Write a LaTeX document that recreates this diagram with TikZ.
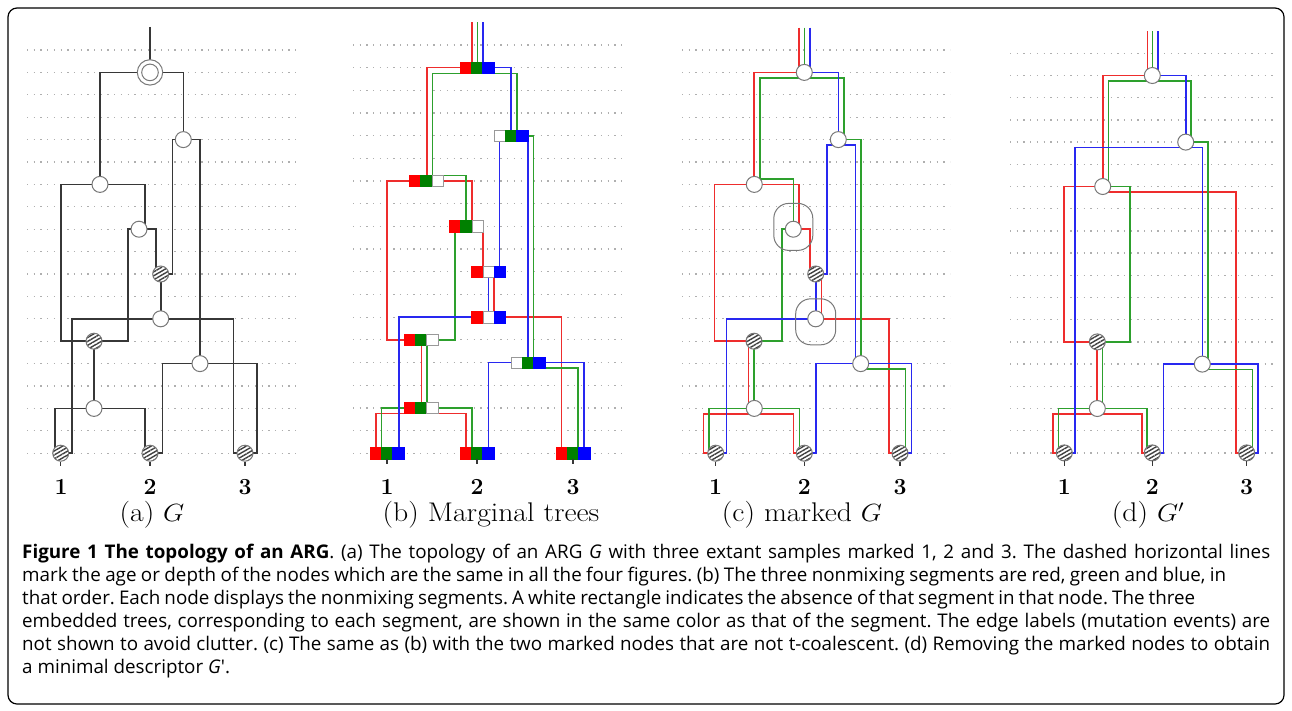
\documentclass[tikz,border=0pt]{standalone}
\usepackage{fontspec}
\newfontfamily\capfont{Open Sans}
\usetikzlibrary{patterns.meta,backgrounds}
\frenchspacing
\definecolor{lr}{RGB}{238,45,45}
\definecolor{lg}{RGB}{45,160,45}
\definecolor{lb}{RGB}{40,40,240}
\definecolor{fr}{RGB}{255,0,0}
\definecolor{fg}{RGB}{0,128,0}
\definecolor{fb}{RGB}{0,0,255}
\definecolor{edgec}{RGB}{55,55,55}
\definecolor{ringc}{RGB}{120,120,120}
\definecolor{dotc}{RGB}{175,175,175}
\tikzset{
  dotrow/.style={draw=dotc, line width=1.3pt, dash pattern=on 1.3pt off 5.4pt},
  glin/.style={draw=edgec, line width=1.6pt},
  rl/.style={draw=lr, line width=1.6pt},
  gl/.style={draw=lg, line width=1.6pt},
  bl/.style={draw=lb, line width=1.6pt},
  circ/.style={circle, draw=ringc, fill=white, line width=1pt, minimum size=16pt, inner sep=0pt},
  hcirc/.style={circle, draw=ringc, line width=1pt, minimum size=16pt, inner sep=0pt,
    preaction={fill=white}, pattern={Lines[angle=30,distance=3.4pt,line width=1.4pt]}, pattern color=black!75},
  sq/.style={rectangle, minimum size=11.3pt, inner sep=0pt, line width=0.6pt},
  sqR/.style={sq, fill=fr, draw=fr},
  sqG/.style={sq, fill=fg, draw=fg},
  sqB/.style={sq, fill=fb, draw=fb},
  sqW/.style={sq, fill=white, draw=gray!80},
  markloop/.style={draw=ringc, line width=1pt, rounded corners=15pt, inner sep=0pt},
  leaftick/.style={draw=edgec, line width=1.2pt},
  digit/.style={font=\fontsize{23}{25}\selectfont\bfseries, inner sep=0pt},
  subcap/.style={font=\fontsize{27}{30}\selectfont, inner sep=0pt},
  capline/.style={font=\capfont\fontsize{18.8}{23}\selectfont, anchor=base west, inner sep=0pt},
}
\newcommand\segbox[6]{%
  \node[#4] (#1L) at ({#2-11.3},#3) {};
  \node[#5] (#1) at (#2,#3) {};
  \node[#6] (#1R) at ({#2+11.3},#3) {};}
\newcommand\bclines{%
  \draw[rl] (144.8,-1) -- (144.8,1) -- (99.7,1) -- (99.7,6);
  \draw[rl] (94,13) -- (60,13) -- (60,6) -- (144.9,6) -- (144.9,8);
  \draw[rl] (139,8) -- (155.7,8) -- (155.7,10);
  \draw[rl] (167,10) -- (167,12);
  \draw[rl] (161.5,12) -- (234.5,12) -- (234.5,18) -- (246,18);
  \draw[rl] (94.3,13) -- (94.3,16);
  \draw[rl] (61,18) -- (49,18) -- (49,16.25) -- (139,16.25) -- (139,18) -- (150,18);
  \draw[gl] (150.3,-1) -- (150.3,1.25);
  \draw[gl] (105.5,6) -- (105.5,1.25) -- (189.7,1.25) -- (189.7,4);
  \draw[gl] (184,4) -- (206.4,4) -- (206.4,14);
  \draw[gl] (100,5.75) -- (139,5.75) -- (139,8);
  \draw[gl] (139,8) -- (127.7,8) -- (127.7,13) -- (97,13);
  \draw[gl] (99.7,13) -- (99.7,16);
  \draw[gl] (61,18) -- (54.5,18) -- (54.5,16) -- (145,16) -- (145,18) -- (150,18);
  \draw[gl] (204,14.25) -- (251,14.25) -- (251,18) -- (246,18);
  \draw[bl] (155.7,-1) -- (155.7,1) -- (184,1) -- (184,4);
  \draw[bl] (161.5,10) -- (172.5,10) -- (172.5,4.25) -- (201,4.25) -- (201,14);
  \draw[bl] (161.5,10) -- (161.5,12);
  \draw[bl] (161.5,12) -- (72,12) -- (72,18) -- (61,18);
  \draw[bl] (150,18) -- (161.4,18) -- (161.4,14) -- (257,14) -- (257,18) -- (246,18);
}
\begin{document}
\begin{tikzpicture}[x=1pt, y=-1pt]
\useasboundingbox (0,0) rectangle (1292,710);
\begin{scope}[on background layer]
  \fill[white] (0,0) rectangle (1292,710);
\end{scope}
\draw[line width=1.2pt, rounded corners=9pt] (8,8) rectangle (1284,704);

% ---------------- (a) ----------------
\begin{scope}[shift={(0,50)}, y=-22.4pt]
  \begin{scope}[on background layer]
    \foreach \r in {0,...,18} \draw[dotrow] (27,\r) -- (297,\r);
  \end{scope}
  \node[circ, minimum size=25.4pt] (aRo) at (150,1) {};
  \node[circ, minimum size=16.6pt] (aR) at (150,1) {};
  \node[circ] (aB) at (183.3,4) {};
  \node[circ] (aA) at (100,6) {};
  \node[circ] (aC) at (139,8) {};
  \node[hcirc] (aH1) at (160.7,10) {};
  \node[circ] (aD) at (160.7,12) {};
  \node[hcirc] (aH2) at (94,13) {};
  \node[circ] (aE) at (200,14) {};
  \node[circ] (aF) at (94,16) {};
  \node[hcirc] (aL1) at (60.7,18) {};
  \node[hcirc] (aL2) at (150,18) {};
  \node[hcirc] (aL3) at (245,18) {};
  \coordinate (aTop) at (150,-1.03);
  \begin{scope}[on background layer]
    \draw[glin] (aTop) -- (aR.center);
    \draw[glin] (aA.center) |- (aR.center) -| (aB.center);
    \draw[glin] (aH1.center) -| (172.3,4) -- (200,4) -- (aE.center);
    \draw[glin] (aH2.center) -| (60.7,6) -- (145,6) -- (145,8) -- (aC.center);
    \draw[glin] (aH2.center) -| (127.7,8) -- (155.7,8) |- (aH1.center);
    \draw[glin] (aH1.center) -- (aD.center);
    \draw[glin] (aL1.center) -| (71.7,12) -- (233.3,12) |- (aL3.center);
    \draw[glin] (aH2.center) -- (aF.center);
    \draw[glin] (aL2.center) -| (162.3,14) -- (256.7,14) |- (aL3.center);
    \draw[glin] (aL1.center) -| (55,16) -- (145,16) |- (aL2.center);
  \end{scope}
  \draw[leaftick] (aL1.south) -- ++(0,0.2);
  \draw[leaftick] (aL2.south) -- ++(0,0.2);
  \draw[leaftick] (aL3.south) -- ++(0,0.2);
\end{scope}

% ---------------- (b) ----------------
\begin{scope}[shift={(327,45)}, y=-22.68pt]
  \begin{scope}[on background layer]
    \foreach \r in {0,...,18} \draw[dotrow] (26,\r) -- (298,\r);
    \bclines
  \end{scope}
  \segbox{bR}{150}{1}{sqR}{sqG}{sqB}
  \segbox{bB}{184}{4}{sqW}{sqG}{sqB}
  \segbox{bA}{99.3}{6}{sqR}{sqG}{sqW}
  \segbox{bC}{139.3}{8}{sqR}{sqG}{sqW}
  \segbox{bH1}{161.7}{10}{sqR}{sqW}{sqB}
  \segbox{bD}{161.7}{12}{sqR}{sqW}{sqB}
  \segbox{bH2}{94}{13}{sqR}{sqG}{sqW}
  \segbox{bE}{201}{14}{sqW}{sqG}{sqB}
  \segbox{bF}{94}{16}{sqR}{sqG}{sqW}
  \segbox{bL1}{60}{18}{sqR}{sqG}{sqB}
  \segbox{bL2}{150}{18}{sqR}{sqG}{sqB}
  \segbox{bL3}{246}{18}{sqR}{sqG}{sqB}
  \draw[leaftick] (bL1.south) -- ++(0,0.22);
  \draw[leaftick] (bL2.south) -- ++(0,0.22);
  \draw[leaftick] (bL3.south) -- ++(0,0.22);
\end{scope}

% ---------------- (c) ----------------
\begin{scope}[shift={(654.3,50)}, y=-22.4pt]
  \begin{scope}[on background layer]
    \foreach \r in {0,...,18} \draw[dotrow] (27.7,\r) -- (295.7,\r);
    \bclines
  \end{scope}
  \node[circ] (cR) at (150,1) {};
  \node[circ] (cB) at (184,4) {};
  \node[circ] (cA) at (100,6) {};
  \node[circ] (cC) at (139,8) {};
  \node[hcirc] (cH1) at (161.4,10) {};
  \node[circ] (cD) at (161.4,12) {};
  \node[hcirc] (cH2) at (99.7,13) {};
  \node[circ] (cE) at (206.4,14) {};
  \node[circ] (cF) at (100,16) {};
  \node[hcirc] (cL1) at (61.4,18) {};
  \node[hcirc] (cL2) at (150,18) {};
  \node[hcirc] (cL3) at (245.7,18) {};
  \node[markloop, minimum width=39pt, minimum height=47pt, yshift=2.3pt] (cCm) at (cC) {};
  \node[markloop, minimum width=40pt, minimum height=46pt, yshift=-3pt] (cDm) at (cD) {};
  \draw[leaftick] (cL1.south) -- ++(0,0.2);
  \draw[leaftick] (cL2.south) -- ++(0,0.2);
  \draw[leaftick] (cL3.south) -- ++(0,0.2);
\end{scope}

% ---------------- (d) ----------------
\begin{scope}[shift={(1002.3,53.3)}, y=-22.2pt]
  \begin{scope}[on background layer]
    \foreach \r in {0,...,18} \draw[dotrow] (7.7,\r) -- (272.7,\r);
  \end{scope}
  \node[circ] (dR) at (150,1) {};
  \node[circ] (dB) at (183.4,4) {};
  \node[circ] (dA) at (100.4,6) {};
  \node[hcirc] (dH2) at (95,13) {};
  \node[circ] (dE) at (200,14) {};
  \node[circ] (dF) at (95,16) {};
  \node[hcirc] (dL1) at (62,18) {};
  \node[hcirc] (dL2) at (150,18) {};
  \node[hcirc] (dL3) at (244.4,18) {};
  \begin{scope}[on background layer]
    \draw[rl] (145,-1) -- (145,1) -- (100.4,1) -- (dA.center);
    \draw[rl] (dH2.center) -- (61.7,13) -- (61.7,6) -- (dA.center);
    \draw[rl] (100.4,6.25) -- (233.4,6.25) -- (233.4,18) -- (dL3.center);
    \draw[rl] (94.4,13) -- (94.4,16);
    \draw[rl] (dL1.center) -- (50.4,18) -- (50.4,16.25) -- (139.4,16.25) -- (139.4,18) -- (dL2.center);
    \draw[gl] (150,-1) -- (150,1.25);
    \draw[gl] (106,6) -- (106,1.25) -- (188.7,1.25) -- (188.7,4);
    \draw[gl] (dA.center) -- (127.7,6) -- (127.7,13) -- (dH2.center);
    \draw[gl] (dB.center) -- (205.4,4) -- (205.4,14);
    \draw[gl] (100,13) -- (100,16);
    \draw[gl] (dL1.center) -- (56,18) -- (56,16) -- (144.4,16) -- (144.4,18) -- (dL2.center);
    \draw[gl] (200,14.25) -- (250,14.25) -- (250,18) -- (dL3.center);
    \draw[bl] (155.4,-1) -- (155.4,1) -- (183.4,1) -- (dB.center);
    \draw[bl] (dL1.center) -- (72.7,18) -- (72.7,4.25) -- (200,4.25) -- (dE.center);
    \draw[bl] (dL2.center) -- (161,18) -- (161,14) -- (255.4,14) -- (255.4,18) -- (dL3.center);
  \end{scope}
  \draw[leaftick] (dL1.south) -- ++(0,0.2);
  \draw[leaftick] (dL2.south) -- ++(0,0.2);
  \draw[leaftick] (dL3.south) -- ++(0,0.2);
\end{scope}

% ---------------- labels ----------------
\node[digit] (na1) at (61,487) {1};
\node[digit] (na2) at (150,487) {2};
\node[digit] (na3) at (245,487) {3};
\node[digit] (nb1) at (387,487) {1};
\node[digit] (nb2) at (477,487) {2};
\node[digit] (nb3) at (573,487) {3};
\node[digit] (nc1) at (715.7,487) {1};
\node[digit] (nc2) at (804.3,487) {2};
\node[digit] (nc3) at (900,487) {3};
\node[digit] (nd1) at (1064.3,487) {1};
\node[digit] (nd2) at (1152.3,487) {2};
\node[digit] (nd3) at (1246.7,487) {3};
\node[subcap] (sa) at (152,515) {\scalebox{1.1}[1]{(a) $G$}};
\node[subcap] (sb) at (491,515) {\scalebox{1.1}[1]{(b) Marginal trees}};
\node[subcap] (sc) at (802,515) {\scalebox{1.1}[1]{(c) marked $G$}};
\node[subcap] (sd) at (1148,515) {\scalebox{1.1}[1]{(d) $G'$}};

\node[capline] (cap1) at (22,558) {\makebox[1248pt][s]{\textbf{Figure 1 The topology of an ARG}. (a) The topology of an ARG \textit{G} with three extant samples marked 1, 2 and 3. The dashed horizontal lines}};
\node[capline] (cap2) at (22,581) {\makebox[1204pt][s]{mark the age or depth of the nodes which are the same in all the four figures. (b) The three nonmixing segments are red, green and blue, in}};
\node[capline] (cap3) at (22,604) {\makebox[1173pt][s]{that order. Each node displays the nonmixing segments. A white rectangle indicates the absence of that segment in that node. The three}};
\node[capline] (cap4) at (22,627) {\makebox[1248pt][s]{embedded trees, corresponding to each segment, are shown in the same color as that of the segment. The edge labels (mutation events) are}};
\node[capline] (cap5) at (22,650) {\makebox[1248pt][s]{not shown to avoid clutter. (c) The same as (b) with the two marked nodes that are not t-coalescent. (d) Removing the marked nodes to obtain}};
\node[capline] (cap6) at (22,673) {a minimal descriptor \textit{G}'.};
\end{tikzpicture}
\end{document}
